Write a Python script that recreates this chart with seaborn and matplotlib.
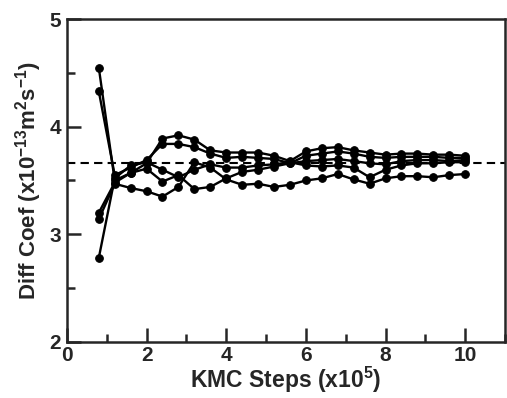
import numpy as np
import pandas as pd
import matplotlib
matplotlib.use("Agg")
import matplotlib.pyplot as plt
import seaborn as sns
from matplotlib.ticker import MultipleLocator

# ---- data (x in units of 1e5 KMC steps) ----
steps = [0.8, 1.2, 1.6, 2.0, 2.4, 2.8, 3.2, 3.6, 4.0, 4.4, 4.8, 5.2,
         5.6, 6.0, 6.4, 6.8, 7.2, 7.6, 8.0, 8.4, 8.8, 9.2, 9.6, 10.0]
run1 = [4.55, 3.50, 3.57, 3.66, 3.89, 3.92, 3.88, 3.78, 3.76, 3.76, 3.76, 3.73,
        3.68, 3.77, 3.80, 3.81, 3.78, 3.76, 3.74, 3.75, 3.75, 3.74, 3.74, 3.73]
run2 = [4.33, 3.55, 3.62, 3.69, 3.84, 3.84, 3.81, 3.75, 3.71, 3.72, 3.71, 3.70,
        3.66, 3.73, 3.75, 3.77, 3.75, 3.72, 3.71, 3.72, 3.72, 3.72, 3.71, 3.71]
run3 = [3.20, 3.48, 3.57, 3.61, 3.49, 3.55, 3.42, 3.44, 3.52, 3.58, 3.60, 3.63,
        3.66, 3.68, 3.69, 3.70, 3.68, 3.66, 3.65, 3.68, 3.69, 3.69, 3.68, 3.69]
run4 = [3.14, 3.47, 3.43, 3.40, 3.35, 3.44, 3.67, 3.62, 3.51, 3.46, 3.47, 3.44,
        3.46, 3.50, 3.52, 3.56, 3.51, 3.47, 3.52, 3.54, 3.54, 3.53, 3.55, 3.56]
run5 = [2.78, 3.52, 3.64, 3.67, 3.60, 3.53, 3.60, 3.65, 3.62, 3.62, 3.64, 3.65,
        3.67, 3.64, 3.63, 3.64, 3.62, 3.53, 3.60, 3.64, 3.66, 3.66, 3.67, 3.67]
mean_value = 3.66

runs = {"run1": run1, "run2": run2, "run3": run3, "run4": run4, "run5": run5}
df = pd.concat([pd.DataFrame({"step": steps, "D": v, "run": k}) for k, v in runs.items()],
               ignore_index=True)

sns.set_style("ticks")
plt.rcParams["font.family"] = ["Liberation Sans", "DejaVu Sans"]
plt.rcParams["font.weight"] = "bold"
plt.rcParams["mathtext.fontset"] = "custom"
plt.rcParams["mathtext.bf"] = "Liberation Sans:bold"
plt.rcParams["mathtext.rm"] = "Liberation Sans:bold"
plt.rcParams["mathtext.default"] = "bf"

fig = plt.figure(figsize=(5.07, 3.98), dpi=100)
ax = fig.add_axes([0.132, 0.141, 0.864, 0.811])

sns.lineplot(data=df, x="step", y="D", units="run", estimator=None, color="black",
             marker="o", markersize=5.5, markeredgecolor="black", linewidth=1.7, ax=ax,
             legend=False)
ax.axhline(mean_value, color="black", linestyle=(0, (4, 2.5)), linewidth=1.5, zorder=1)

ax.set_xlim(0, 11)
ax.set_ylim(2, 5)
ax.xaxis.set_major_locator(MultipleLocator(2))
ax.xaxis.set_minor_locator(MultipleLocator(1))
ax.yaxis.set_major_locator(MultipleLocator(1))
ax.yaxis.set_minor_locator(MultipleLocator(0.5))
ax.set_xticks([0, 2, 4, 6, 8, 10])
ax.tick_params(which="major", direction="in", length=10, width=1.8, labelsize=15, pad=4)
ax.tick_params(axis="x", which="major", pad=3)
ax.tick_params(which="minor", direction="in", length=6, width=1.8)
for lab in ax.get_xticklabels() + ax.get_yticklabels():
    lab.set_fontweight("bold")
for s in ax.spines.values():
    s.set_linewidth(1.8)

ax.set_xlabel(r"KMC Steps (x10$^5$)", fontsize=16.5, fontweight="bold", labelpad=0)
ax.set_ylabel(r"Diff Coef (x10$^{-13}$m$^2$s$^{-1}$)", fontsize=16, fontweight="bold", labelpad=4)

fig.savefig("out.png", dpi=100)
